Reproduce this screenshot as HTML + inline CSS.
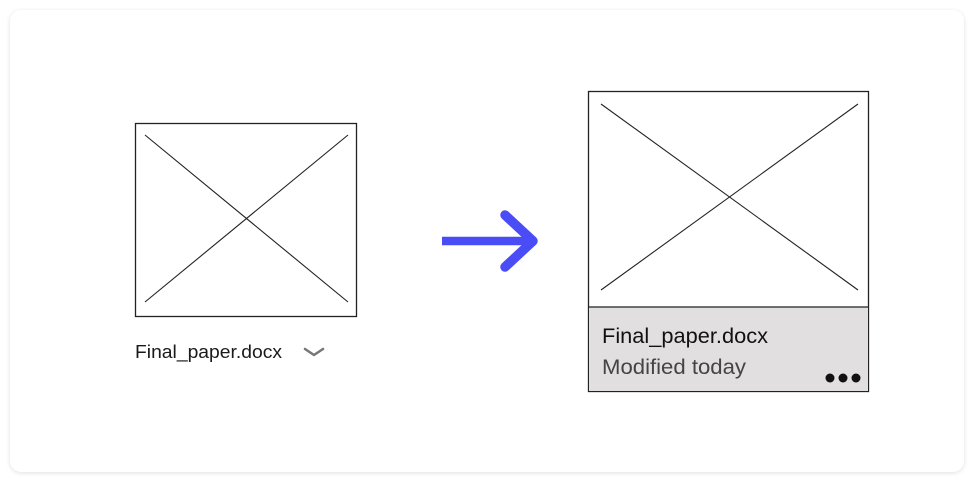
<!DOCTYPE html>
<html><head><meta charset="utf-8"><style>
html,body{margin:0;padding:0;background:#fff;width:974px;height:483px;overflow:hidden;font-family:"Liberation Sans",sans-serif}
</style></head><body>
<svg width="974" height="483" viewBox="0 0 974 483" xmlns="http://www.w3.org/2000/svg">
<defs><filter id="sh" x="-5%" y="-5%" width="110%" height="110%"><feGaussianBlur stdDeviation="2.5"/></filter></defs>
<rect x="10" y="11" width="954" height="462" rx="11" fill="#000" opacity="0.12" filter="url(#sh)"/>
<rect x="10" y="10" width="954" height="462" rx="11" fill="#fff"/>
<g>
<rect x="135.5" y="123.5" width="221" height="193" fill="#fff" stroke="#222" stroke-width="1.3"/>
<line x1="145" y1="135" x2="348" y2="302" stroke="#222" stroke-width="1.1"/>
<line x1="348" y1="135" x2="145" y2="302" stroke="#222" stroke-width="1.1"/>
</g>
<text x="135" y="358" font-size="18.5" fill="#1a1a1a" textLength="147" lengthAdjust="spacingAndGlyphs">Final_paper.docx</text>
<polyline points="305,349 314,355 323,349" fill="none" stroke="#777" stroke-width="2.5" stroke-linecap="round" stroke-linejoin="round"/>
<g stroke="#4a4cf5" fill="none">
<line x1="442" y1="241" x2="532" y2="241" stroke-width="8.5"/>
<polyline points="505,215 533,241 505,267" stroke-width="9.5" stroke-linecap="round" stroke-linejoin="round"/>
</g>
<g>
<rect x="588.5" y="91.5" width="280" height="300" fill="#fff" stroke="#222" stroke-width="1.3"/>
<line x1="601" y1="104" x2="858" y2="290" stroke="#222" stroke-width="1.1"/>
<line x1="858" y1="104" x2="601" y2="290" stroke="#222" stroke-width="1.1"/>
<rect x="589" y="307" width="279" height="84" fill="#e1dfe0"/>
<line x1="588" y1="307" x2="869" y2="307" stroke="#222" stroke-width="1.3"/>
<text x="602" y="343" font-size="21" fill="#111" textLength="166" lengthAdjust="spacingAndGlyphs">Final_paper.docx</text>
<text x="602" y="374" font-size="21" fill="#444" textLength="144" lengthAdjust="spacingAndGlyphs">Modified today</text>
<g fill="#111">
<circle cx="830" cy="378" r="4.5"/><circle cx="843" cy="378" r="4.5"/><circle cx="856" cy="378" r="4.5"/>
</g>
</g>
</svg>
</body></html>
